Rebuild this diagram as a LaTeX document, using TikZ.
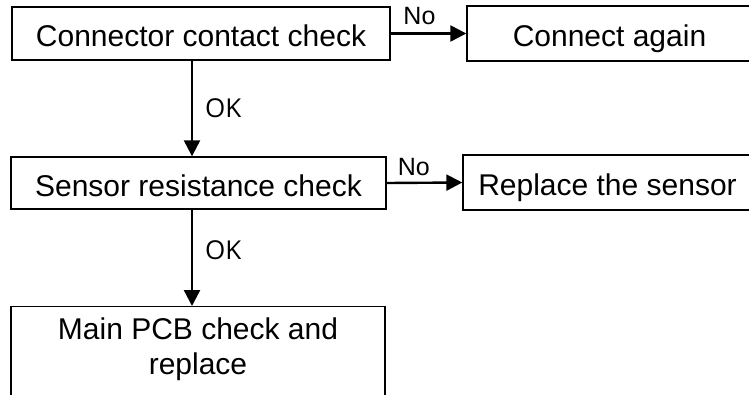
\documentclass[tikz,border=0pt]{standalone}
\usepackage{fontspec}
\setmainfont{Liberation Sans}
\newfontfamily\okfont{Open Sans}
\usetikzlibrary{arrows.meta}
\begin{document}
\begin{tikzpicture}[x=1pt,y=-1pt,
  box/.style={draw=black, line width=1.4pt, inner sep=0pt, text height=27pt, text depth=1pt, font=\fontsize{30}{35}\selectfont},
  arr/.style={line width=2.4pt, -{Triangle[length=16pt,width=16pt]}},
  nolab/.style={font=\fontsize{25}{28}\selectfont, inner sep=0pt},
  oklab/.style={font=\okfont\fontsize{26}{30}\selectfont, inner sep=0pt, anchor=west}]
\useasboundingbox[fill=white] (0,0) rectangle (749,394);
\node[box, minimum width=378pt, minimum height=53pt] (b1) at (201,33.5) {Connector contact check};
\node[box, minimum width=285pt, minimum height=55pt] (b2) at (609.5,33.5) {Connect again};
\node[box, minimum width=375pt, minimum height=52pt] (b3) at (198.5,183) {Sensor resistance check};
\node[box, minimum width=289pt, minimum height=55pt] (b4) at (607.5,182.5) {Replace the sensor};
\node[draw=black, line width=1.4pt, inner sep=0pt, minimum width=374pt, minimum height=110pt, anchor=north] (b5) at (198,306) {};
\node[font=\fontsize{30}{35}\selectfont, align=center, inner sep=0pt] (b5text) at (198,349) {Main PCB check and\\replace};
\coordinate (ax) at (192,0);
\draw[arr] (b1.east) -- node[nolab, pos=0.38, yshift=17pt] (no1) {No} (b2.west);
\draw[arr] (b3.east) -- node[nolab, pos=0.36, yshift=16pt] (no2) {No} (b4.west);
\draw[arr] (b1.south -| ax) -- node[oklab, pos=0.5, xshift=12pt] (ok1) {OK} (b3.north -| ax);
\draw[arr] (b3.south -| ax) -- node[oklab, pos=0.42, xshift=12pt] (ok2) {OK} (b5.north -| ax);
\end{tikzpicture}
\end{document}
